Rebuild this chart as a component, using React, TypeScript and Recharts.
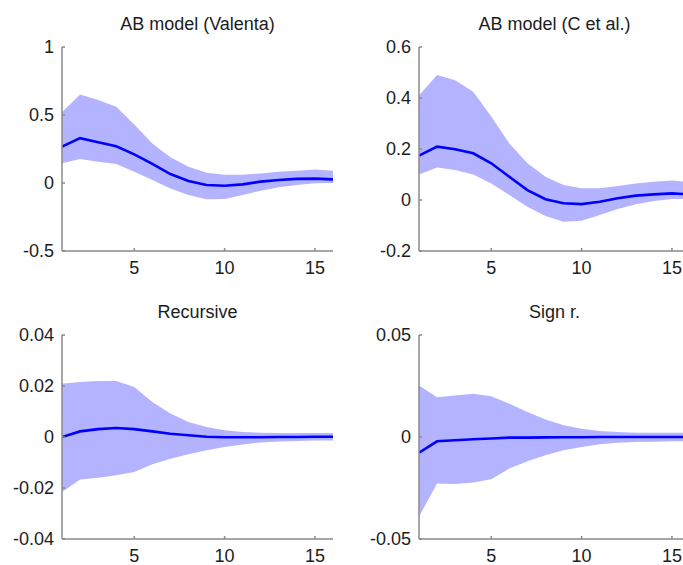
import { Area, ComposedChart, Line, XAxis, YAxis } from 'recharts';

// impulse response horizon
const steps = [1, 2, 3, 4, 5, 6, 7, 8, 9, 10, 11, 12, 13, 14, 15, 16];

// AB model (Valenta)
const valentaMid = [0.267, 0.33, 0.3, 0.27, 0.21, 0.14, 0.066, 0.015, -0.015, -0.02, -0.01, 0.01, 0.022, 0.03, 0.032, 0.027];
const valentaHi = [0.52, 0.65, 0.61, 0.56, 0.43, 0.29, 0.19, 0.12, 0.076, 0.06, 0.06, 0.07, 0.083, 0.09, 0.1, 0.09];
const valentaLo = [0.145, 0.177, 0.157, 0.14, 0.083, 0.022, -0.04, -0.088, -0.12, -0.118, -0.088, -0.057, -0.032, -0.015, -0.002, 0];

// AB model (C et al.)
const cetalMid = [0.174, 0.209, 0.199, 0.183, 0.144, 0.091, 0.039, 0.003, -0.013, -0.016, -0.007, 0.007, 0.017, 0.022, 0.026, 0.022];
const cetalHi = [0.41, 0.49, 0.47, 0.425, 0.327, 0.222, 0.144, 0.091, 0.059, 0.046, 0.046, 0.055, 0.065, 0.072, 0.076, 0.07];
const cetalLo = [0.1, 0.127, 0.118, 0.1, 0.065, 0.02, -0.026, -0.063, -0.085, -0.081, -0.059, -0.035, -0.017, -0.004, 0.004, 0.004];

// Recursive
const recMid = [0, 0.0022, 0.0031, 0.0035, 0.0031, 0.0022, 0.0013, 0.0007, 0.0001, -0.0001, -0.0001, -0.0001, 0, 0, 0.0001, 0.0001];
const recHi = [0.0209, 0.0216, 0.022, 0.022, 0.0196, 0.0137, 0.0092, 0.0059, 0.0039, 0.0026, 0.002, 0.0017, 0.0016, 0.0016, 0.0016, 0.0016];
const recLo = [-0.0216, -0.0167, -0.016, -0.015, -0.0137, -0.0107, -0.0085, -0.0068, -0.0052, -0.0039, -0.0029, -0.0022, -0.0018, -0.0016, -0.0014, -0.0014];

// Sign restrictions
const signMid = [-0.0077, -0.0021, -0.0016, -0.0011, -0.0007, -0.0003, -0.0003, -0.0002, -0.0001, -0.0001, 0, 0, 0, 0, 0, 0];
const signHi = [0.0252, 0.0195, 0.0204, 0.0212, 0.02, 0.0163, 0.0122, 0.0086, 0.0057, 0.0041, 0.0029, 0.0024, 0.0021, 0.0021, 0.0021, 0.0021];
const signLo = [-0.039, -0.0228, -0.0231, -0.0223, -0.0207, -0.0155, -0.0119, -0.009, -0.0065, -0.0049, -0.0036, -0.0028, -0.0024, -0.0023, -0.0021, -0.0021];

const xTicks = [5, 10, 15];

const FONT = '"Liberation Sans", Arial, Helvetica, sans-serif';
const AXIS = '#8a8a8a';
const TEXT = '#1c1c1c';

interface PanelProps {
  title: string;
  mid: number[];
  lo: number[];
  hi: number[];
  yDomain: [number, number];
  yTicks: number[];
  left: number;
  top: number;
}

function Panel({ title, mid, lo, hi, yDomain, yTicks, left, top }: PanelProps) {
  const data = steps.map((step, i) => ({ step, band: [lo[i], hi[i]], mid: mid[i] }));
  const tick = { fontSize: 18, fill: TEXT, fontFamily: FONT };

  return (
    <div style={{ position: 'absolute', left, top, width: 340, height: 280 }}>
      <div
        style={{
          position: 'absolute',
          left: 62,
          width: 271,
          top: 15,
          textAlign: 'center',
          fontFamily: FONT,
          fontSize: 18,
          lineHeight: '18px',
          color: TEXT,
          whiteSpace: 'nowrap',
        }}
      >
        {title}
      </div>
      <ComposedChart width={340} height={280} data={data} margin={{ top: 47, right: 7, bottom: 0, left: 12 }}>
        <XAxis
          type="number"
          dataKey="step"
          domain={[1, 16]}
          ticks={xTicks}
          interval={0}
          height={29}
          tick={tick}
          tickSize={-3}
          tickMargin={13}
          axisLine={{ stroke: AXIS, strokeWidth: 1.5 }}
          tickLine={{ stroke: AXIS, strokeWidth: 1.5 }}
          allowDataOverflow
        />
        <YAxis
          type="number"
          domain={yDomain}
          ticks={yTicks}
          interval={0}
          width={50}
          tick={tick}
          tickSize={-3}
          tickMargin={11}
          axisLine={{ stroke: AXIS, strokeWidth: 1.5 }}
          tickLine={{ stroke: AXIS, strokeWidth: 1.5 }}
          allowDataOverflow
        />
        <Area
          dataKey="band"
          type="linear"
          fill="#b3b3ff"
          fillOpacity={1}
          stroke="none"
          isAnimationActive={false}
        />
        <Line
          dataKey="mid"
          type="linear"
          stroke="#0000ff"
          strokeWidth={2.6}
          dot={false}
          isAnimationActive={false}
        />
      </ComposedChart>
    </div>
  );
}

export default function App() {
  return (
    <div
      style={{
        position: 'fixed',
        left: 0,
        top: 0,
        width: 683,
        height: 565,
        overflow: 'hidden',
        background: '#fff',
      }}
    >
      <Panel
        title="AB model (Valenta)"
        mid={valentaMid}
        lo={valentaLo}
        hi={valentaHi}
        yDomain={[-0.5, 1]}
        yTicks={[-0.5, 0, 0.5, 1]}
        left={0}
        top={0}
      />
      <Panel
        title="AB model (C et al.)"
        mid={cetalMid}
        lo={cetalLo}
        hi={cetalHi}
        yDomain={[-0.2, 0.6]}
        yTicks={[-0.2, 0, 0.2, 0.4, 0.6]}
        left={357}
        top={0}
      />
      <Panel
        title="Recursive"
        mid={recMid}
        lo={recLo}
        hi={recHi}
        yDomain={[-0.04, 0.04]}
        yTicks={[-0.04, -0.02, 0, 0.02, 0.04]}
        left={0}
        top={288}
      />
      <Panel
        title="Sign r."
        mid={signMid}
        lo={signLo}
        hi={signHi}
        yDomain={[-0.05, 0.05]}
        yTicks={[-0.05, 0, 0.05]}
        left={357}
        top={288}
      />
    </div>
  );
}
